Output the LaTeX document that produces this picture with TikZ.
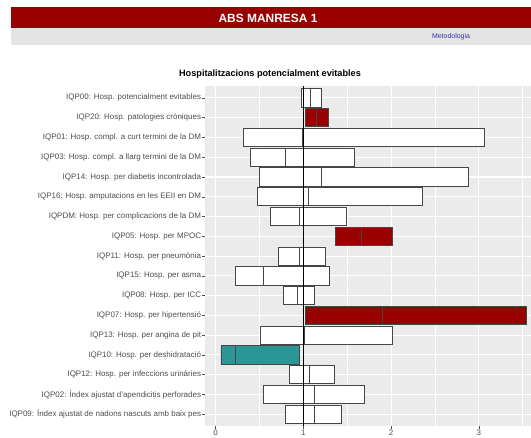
\documentclass[tikz,border=0pt]{standalone}
\usepackage{fontspec}
\setmainfont{Liberation Sans}
\usepackage{tikz}
\usetikzlibrary{positioning}
\definecolor{absRed}{RGB}{153,0,0}
\definecolor{absTeal}{RGB}{42,150,150}
\definecolor{absBlue}{RGB}{51,51,170}
\definecolor{absBand}{RGB}{228,228,228}
\definecolor{absPanel}{RGB}{235,235,235}
\definecolor{absText}{RGB}{77,77,77}
\definecolor{absLine}{RGB}{70,70,70}

\begin{document}
\begin{tikzpicture}[
    x=1bp, y=-1bp,
    rowlabel/.style={anchor=east, inner sep=0pt, font=\fontsize{8}{8}\selectfont, text=absText},
    ticklabel/.style={anchor=center, inner sep=0pt, font=\fontsize{8}{8}\selectfont, text=absText},
    crossbar/.style={draw=absLine, line width=0.8bp, fill=white},
    highbar/.style={crossbar, fill=absRed},
    lowbar/.style={crossbar, fill=absTeal},
    majorgrid/.style={draw=white, line width=1.1bp},
    minorgrid/.style={draw=white, line width=0.55bp},
    axistick/.style={draw=absText, line width=0.5bp}
]
\useasboundingbox (0,0) rectangle (531,438);

% Header
\fill [absRed] (11,7.3) rectangle (531,28.3);
\fill [absBand] (11,28.3) rectangle (531,45);
\node (banner) at (268,18) [text=white, font=\bfseries\fontsize{12}{12}\selectfont] {ABS MANRESA 1};
\node (method) at (451,37) [text=absBlue, font=\fontsize{7}{7}\selectfont] {Metodologia};
\node (title) at (270,74) [font=\bfseries\fontsize{9.2}{9.2}\selectfont] {Hospitalitzacions potencialment evitables};

% Chart (x = ratio, y = row)
\begin{scope}[shift={(215.7,97.9)}, x=87.7bp, y=-19.77bp]
\fill [absPanel] (-0.122,-0.6) rectangle (3.595,16.6);
\foreach \v in {0.5,1.5,2.5,3.5} \draw [minorgrid] (\v,-0.6) -- (\v,16.6);
\foreach \v in {0,1,2,3} \draw [majorgrid] (\v,-0.6) -- (\v,16.6);
\foreach \r in {0,...,16} {
  \draw [majorgrid] (-0.122,\r) -- (3.595,\r);
  \draw [axistick] (-0.155,\r) -- (-0.122,\r);
}
\foreach \v in {0,1,2,3} {
  \draw [axistick] (\v,16.6) -- (\v,16.74);
  \node (tick\v) [ticklabel] at (\v,16.95) {\v};
}

% Rows
\node (lab00) [rowlabel] at (-0.165,0) {IQP00: Hosp. potencialment evitables};
\draw [crossbar] (0.98,-0.46) rectangle (1.20,0.46) (1.08,-0.46) -- (1.08,0.46);

\node (lab20) [rowlabel] at (-0.165,1) {IQP20: Hosp. patologies cròniques};
\draw [highbar] (1.02,0.54) rectangle (1.29,1.46) (1.15,0.54) -- (1.15,1.46);

\node (lab01) [rowlabel] at (-0.165,2) {IQP01: Hosp. compl. a curt termini de la DM};
\draw [crossbar] (0.32,1.54) rectangle (3.06,2.46) (0.99,1.54) -- (0.99,2.46);

\node (lab03) [rowlabel] at (-0.165,3) {IQP03: Hosp. compl. a llarg termini de la DM};
\draw [crossbar] (0.40,2.54) rectangle (1.58,3.46) (0.80,2.54) -- (0.80,3.46);

\node (lab14) [rowlabel] at (-0.165,4) {IQP14: Hosp. per diabetis incontrolada};
\draw [crossbar] (0.50,3.54) rectangle (2.88,4.46) (1.20,3.54) -- (1.20,4.46);

\node (lab16) [rowlabel] at (-0.165,5) {IQP16: Hosp. amputacions en les EEII en DM};
\draw [crossbar] (0.47,4.54) rectangle (2.36,5.46) (1.06,4.54) -- (1.06,5.46);

\node (labDM) [rowlabel] at (-0.165,6) {IQPDM: Hosp. per complicacions de la DM};
\draw [crossbar] (0.62,5.54) rectangle (1.49,6.46) (0.96,5.54) -- (0.96,6.46);

\node (lab05) [rowlabel] at (-0.165,7) {IQP05: Hosp. per MPOC};
\draw [highbar] (1.37,6.54) rectangle (2.01,7.46) (1.66,6.54) -- (1.66,7.46);

\node (lab11) [rowlabel] at (-0.165,8) {IQP11: Hosp. per pneumònia};
\draw [crossbar] (0.71,7.54) rectangle (1.25,8.46) (0.95,7.54) -- (0.95,8.46);

\node (lab15) [rowlabel] at (-0.165,9) {IQP15: Hosp. per asma};
\draw [crossbar] (0.23,8.54) rectangle (1.30,9.46) (0.54,8.54) -- (0.54,9.46);

\node (lab08) [rowlabel] at (-0.165,10) {IQP08: Hosp. per ICC};
\draw [crossbar] (0.77,9.54) rectangle (1.12,10.46) (0.93,9.54) -- (0.93,10.46);

\node (lab07) [rowlabel] at (-0.165,11) {IQP07: Hosp. per hipertensió};
\draw [highbar] (1.02,10.54) rectangle (3.54,11.46) (1.90,10.54) -- (1.90,11.46);

\node (lab13) [rowlabel] at (-0.165,12) {IQP13: Hosp. per angina de pit};
\draw [crossbar] (0.51,11.54) rectangle (2.02,12.46) (1.01,11.54) -- (1.01,12.46);

\node (lab10) [rowlabel] at (-0.165,13) {IQP10: Hosp. per deshidratació};
\draw [lowbar] (0.06,12.54) rectangle (0.95,13.46) (0.23,12.54) -- (0.23,13.46);

\node (lab12) [rowlabel] at (-0.165,14) {IQP12: Hosp. per infeccions urinàries};
\draw [crossbar] (0.84,13.54) rectangle (1.35,14.46) (1.07,13.54) -- (1.07,14.46);

\node (lab02) [rowlabel] at (-0.165,15) {IQP02: Índex ajustat d'apendicitis perforades};
\draw [crossbar] (0.54,14.54) rectangle (1.69,15.46) (1.12,14.54) -- (1.12,15.46);

\node (lab09) [rowlabel] at (-0.165,16) {IQP09: Índex ajustat de nadons nascuts amb baix pes};
\draw [crossbar] (0.80,15.54) rectangle (1.43,16.46) (1.12,15.54) -- (1.12,16.46);

% Reference line
\draw [black, line width=1.8bp] (1,-0.6) -- (1,16.6);
\end{scope}
\end{tikzpicture}
\end{document}
